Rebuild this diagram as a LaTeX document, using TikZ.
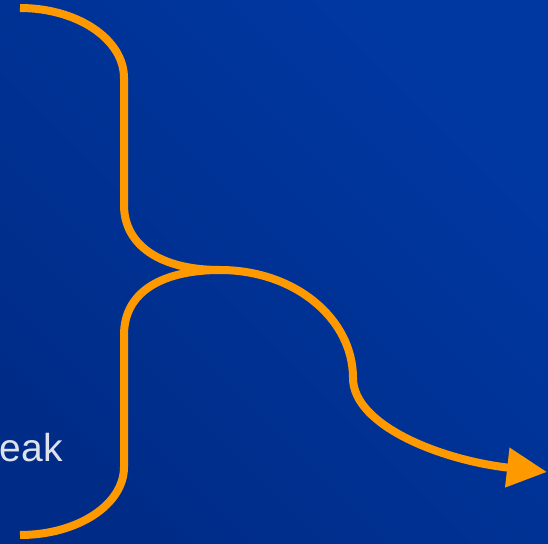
\documentclass[tikz,border=0pt]{standalone}
\usepackage{fontspec}
\setmainfont{Liberation Sans}
\usetikzlibrary{arrows.meta}
\definecolor{bgA}{RGB}{0,44,136}
\definecolor{bgB}{RGB}{0,56,162}
\definecolor{flow}{RGB}{255,153,0}
\definecolor{txt}{RGB}{222,226,236}
\begin{document}
\begin{tikzpicture}[x=1pt,y=-1pt,
  flowline/.style={draw=flow,line width=8pt,line cap=butt},
  lbltext/.style={anchor=base east,inner sep=0pt,text=txt,font=\fontsize{39}{44}\selectfont}]
\useasboundingbox (0,0) rectangle (548,543);
\shade[bottom color=bgA, top color=bgB, shading angle=-45] (0,0) rectangle (548,543);
\node[lbltext] (lbl) at (63,461) {eak};
\coordinate (start1) at (20,8);
\coordinate (start2) at (20,535);
\coordinate (meet) at (220,270);
\coordinate (tip) at (547,472);
\draw[flowline,-{Triangle[length=40pt,width=38pt]}] (start1)
  .. controls (77,8) and (124,39) .. (124,78) -- (124,205)
  .. controls (124,245) and (160,270) .. (meet)
  .. controls (295,270) and (353,319) .. (353,378)
  .. controls (353,425) and (440,460) .. (tip);
\draw[flowline] (start2)
  .. controls (77,535) and (124,505) .. (124,467) -- (124,335)
  .. controls (124,290) and (165,270) .. (meet);
\end{tikzpicture}
\end{document}
